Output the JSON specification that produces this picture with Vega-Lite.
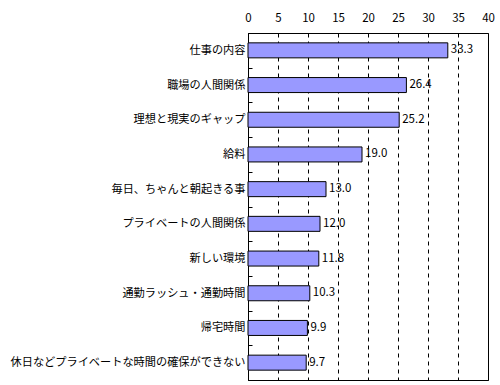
{
  "$schema": "https://vega.github.io/schema/vega-lite/v6.json",
  "width": 240,
  "height": 347,
  "autosize": {"type": "none"},
  "padding": {"left": 248, "top": 33, "right": 12, "bottom": 5},
  "background": "white",
  "data": {"values": [
    {"item": "仕事の内容", "value": 33.3},
    {"item": "職場の人間関係", "value": 26.4},
    {"item": "理想と現実のギャップ", "value": 25.2},
    {"item": "給料", "value": 19.0},
    {"item": "毎日、ちゃんと朝起きる事", "value": 13.0},
    {"item": "プライベートの人間関係", "value": 12.0},
    {"item": "新しい環境", "value": 11.8},
    {"item": "通勤ラッシュ・通勤時間", "value": 10.3},
    {"item": "帰宅時間", "value": 9.9},
    {"item": "休日などプライベートな時間の確保ができない", "value": 9.7}
  ]},
  "encoding": {
    "y": {"field": "item", "type": "nominal", "sort": null, "title": null,
      "scale": {"paddingInner": 0, "paddingOuter": 0},
      "axis": {"domainColor": "black", "tickColor": "black", "tickBand": "extent", "tickSize": -4, "labelPadding": 7, "labelFont": "Noto Sans CJK JP", "labelFontSize": 11.2, "labelColor": "black", "labelLimit": 300}},
    "x": {"field": "value", "type": "quantitative", "title": null,
      "scale": {"domain": [0, 40], "nice": false},
      "axis": {"orient": "top", "values": [0,5,10,15,20,25,30,35,40], "domain": false, "ticks": false, "labelPadding": 10, "labelFont": "Noto Sans CJK JP", "labelFontSize": 11.5, "labelColor": "black", "grid": true, "gridColor": "black", "gridDash": [4, 4], "gridOpacity": 1, "labelFlush": false}}
  },
  "layer": [
    {"mark": {"type": "bar", "height": 15, "fill": "#9999FF", "stroke": "black", "strokeWidth": 1}},
    {"mark": {"type": "text", "align": "left", "dx": 3, "font": "Noto Sans CJK JP", "fontSize": 11.5, "color": "black"},
      "encoding": {"text": {"field": "value", "type": "quantitative", "format": ".1f"}}}
  ],
  "config": {"view": {"stroke": "black", "strokeWidth": 1}}
}
